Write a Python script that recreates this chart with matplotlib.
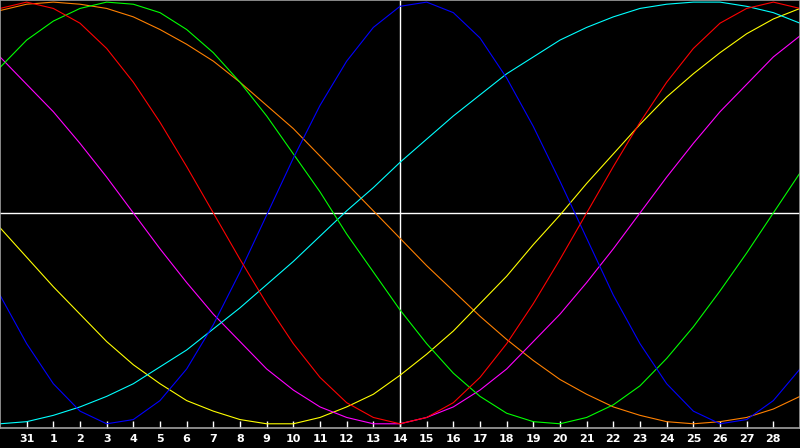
import matplotlib
matplotlib.use("Agg")
import matplotlib.pyplot as plt

# day labels under the chart (day index -1 .. 29, only 0..28 are labelled)
day_labels = ["31"] + [str(i) for i in range(1, 29)]
days = list(range(-1, 30))

# cycle values, one point per day
red = [0.97, 1.00, 0.97, 0.90, 0.78, 0.62, 0.43, 0.22, 0.00, -0.22, -0.43,
       -0.62, -0.78, -0.90, -0.97, -1.00, -0.97, -0.90, -0.78, -0.62, -0.43,
       -0.22, 0.00, 0.22, 0.43, 0.62, 0.78, 0.90, 0.97, 1.00, 0.97]
blue = [-0.39, -0.62, -0.81, -0.94, -1.00, -0.98, -0.89, -0.74, -0.53, -0.28,
        -0.01, 0.26, 0.51, 0.72, 0.88, 0.98, 1.00, 0.95, 0.83, 0.64, 0.41,
        0.15, -0.12, -0.39, -0.62, -0.81, -0.94, -1.00, -0.98, -0.89, -0.74]
green = [0.69, 0.82, 0.91, 0.97, 1.00, 0.99, 0.95, 0.87, 0.76, 0.62, 0.46,
         0.28, 0.10, -0.10, -0.28, -0.46, -0.62, -0.76, -0.87, -0.95, -0.99,
         -1.00, -0.97, -0.91, -0.82, -0.69, -0.54, -0.37, -0.19, 0.00, 0.19]
cyan = [-1.00, -0.99, -0.96, -0.92, -0.87, -0.81, -0.73, -0.65, -0.55, -0.45,
        -0.34, -0.23, -0.11, 0.01, 0.12, 0.24, 0.35, 0.46, 0.56, 0.66, 0.74,
        0.82, 0.88, 0.93, 0.97, 0.99, 1.00, 1.00, 0.98, 0.95, 0.90]
magenta = [0.74, 0.61, 0.48, 0.33, 0.17, 0.00, -0.17, -0.33, -0.48, -0.61,
           -0.74, -0.84, -0.92, -0.97, -1.00, -1.00, -0.97, -0.92, -0.84,
           -0.74, -0.61, -0.48, -0.33, -0.17, 0.00, 0.17, 0.33, 0.48, 0.61,
           0.74, 0.84]
yellow = [-0.07, -0.21, -0.35, -0.48, -0.61, -0.72, -0.81, -0.89, -0.94, -0.98,
          -1.00, -1.00, -0.97, -0.92, -0.86, -0.77, -0.67, -0.56, -0.43, -0.30,
          -0.15, -0.01, 0.14, 0.28, 0.42, 0.55, 0.66, 0.76, 0.85, 0.92, 0.97]
orange = [0.96, 0.99, 1.00, 0.99, 0.97, 0.93, 0.87, 0.80, 0.72, 0.62, 0.51,
          0.40, 0.27, 0.14, 0.01, -0.12, -0.25, -0.37, -0.49, -0.60, -0.70,
          -0.79, -0.86, -0.92, -0.96, -0.99, -1.00, -0.99, -0.97, -0.93, -0.87]

series = [
    (orange, "#ff8000"),
    (yellow, "#ffff00"),
    (magenta, "#ff00ff"),
    (cyan, "#00ffff"),
    (green, "#00ff00"),
    (blue, "#0000ff"),
    (red, "#ff0000"),
]

fig = plt.figure(figsize=(8, 4.48), dpi=100, facecolor="black")
ax = fig.add_axes([0, 1 - 428 / 448, 1, 428 / 448], facecolor="black")

# crosshair: today + zero line
ax.axvline(14, color="white", lw=1, zorder=1)
ax.axhline(0, color="white", lw=1, zorder=1)

for vals, col in series:
    ax.plot(days, vals, color=col, lw=0.8, zorder=2)

ax.set_xlim(-1, 29)
ax.set_ylim(-1.02, 1.01)

ax.set_xticks(range(0, 29))
ax.set_xticklabels(day_labels, color="white", fontsize=8, fontweight="bold")
ax.tick_params(axis="x", direction="in", length=5, width=1, color="white", pad=4)
ax.set_yticks([])

for s in ax.spines.values():
    s.set_color("#a0a0a0")
    s.set_linewidth(1.2)

fig.savefig("out.png", dpi=100, facecolor="black")
